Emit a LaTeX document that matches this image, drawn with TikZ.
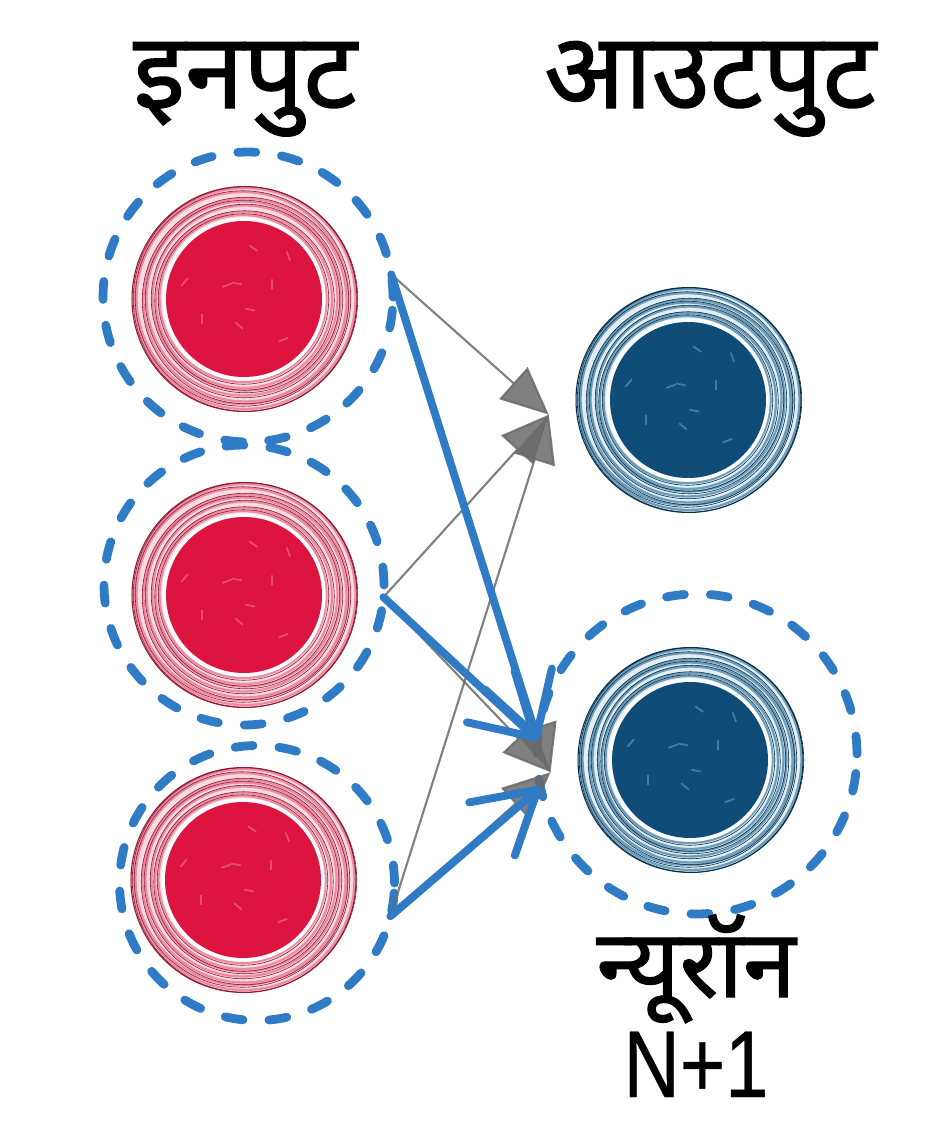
\documentclass[tikz,border=0pt]{standalone}
\usepackage{fontspec}
\newfontfamily\devafont[Script=Devanagari, FakeBold=1.4]{Noto Sans}
\newfontfamily\latfont[FakeStretch=0.82, FakeBold=0.4]{Liberation Sans}
\usetikzlibrary{arrows.meta}
\definecolor{dashblue}{HTML}{2F7BC6}
\definecolor{redcore}{HTML}{DC143F}
\definecolor{redring}{HTML}{F9DCE2}
\definecolor{redline}{HTML}{8E1B33}
\definecolor{redmid}{HTML}{EC8CA1}
\definecolor{bluecore}{HTML}{0F4D78}
\definecolor{bluering}{HTML}{E2EEF4}
\definecolor{blueline}{HTML}{0B2E48}
\definecolor{bluemid}{HTML}{6C9DBA}
\definecolor{arrowgray}{HTML}{6A6A6A}
\tikzset{
  pics/neuron/.style n args={4}{code={
    \fill[#2] (0,0) circle[radius=2.26cm];
    \foreach \r/\dx/\dy in {2.21/0.02/0.01,2.12/-0.03/0.02,2.03/0.02/-0.02,1.94/-0.01/0.01,1.85/0.02/0.02,1.76/0/-0.02,1.67/-0.02/0.01}
      {\draw[#4, line width=1.3pt] (\dx cm,\dy cm) circle[radius=\r cm];
       \draw[#3, line width=0.35pt] (\dx cm+0.01cm,\dy cm-0.01cm) circle[radius=\r cm+0.035cm];}
    \draw[#3, line width=0.6pt] (0.01cm,0) circle[radius=2.25cm];
    \draw[white, line width=2pt] (0,0) circle[radius=1.6cm];
    \fill[#1] (0,0) circle[radius=1.56cm];
    \foreach \a/\rr in {20/0.6,75/1.0,130/0.4,200/0.9,250/0.5,310/1.1,40/1.2,160/1.2,280/0.2,100/0.3}
      {\draw[white, opacity=0.25, line width=1pt, line cap=round] (\a:\rr cm) -- ++(\a+70:0.18cm);}
  }},
  neuronspot/.style={circle, minimum size=5.6cm, inner sep=0pt, outer sep=0pt},
  dashring/.style={circle, draw=dashblue, line width=5pt, dash pattern=on 0.36cm off 0.52cm, line cap=round, inner sep=0pt, outer sep=0pt},
  grayarrow/.style={draw=arrowgray, line width=1.2pt, opacity=0.85, -{Triangle[length=0.95cm,width=0.85cm]}},
  bluearrow/.style={draw=dashblue, line width=4.5pt, line cap=round, -{Straight Barb[length=1.2cm,width=1.4cm,line cap=round,round]}},
  headtxt/.style={font=\devafont\fontsize{60}{64}\selectfont, inner sep=0pt, anchor=base},
  labtxt/.style={font=\devafont\fontsize{54}{58}\selectfont, inner sep=0pt, anchor=base},
  numtxt/.style={font=\latfont\fontsize{54}{58}\selectfont, inner sep=0pt, anchor=base},
}
\begin{document}
\begin{tikzpicture}[x=0.02cm,y=-0.02cm]
\useasboundingbox (0,0) rectangle (944,1128);
\fill[white] (0,0) rectangle (944,1128);
% neurons
\node[neuronspot] (n1) at (244,299) {};
\node[neuronspot] (n2) at (244,595) {};
\node[neuronspot] (n3) at (243,880) {};
\node[neuronspot] (o1) at (688,400) {};
\node[neuronspot] (o2) at (690,760) {};
\pic at (n1) {neuron={redcore}{redring}{redline}{redmid}};
\pic at (n2) {neuron={redcore}{redring}{redline}{redmid}};
\pic at (n3) {neuron={redcore}{redring}{redline}{redmid}};
\pic at (o1) {neuron={bluecore}{bluering}{blueline}{bluemid}};
\pic at (o2) {neuron={bluecore}{bluering}{blueline}{bluemid}};
% dashed rings
\node[dashring, minimum size=5.8cm] (d1) at (248,297) {};
\node[dashring, minimum size=5.6cm] (d2) at (244,585) {};
\node[dashring, minimum size=5.5cm] (d3) at (257,883) {};
\node[dashring, minimum size=6.4cm] (d4) at (697,754) {};
% gray connections
\draw[grayarrow] (d1.9) -- (o1.186);
\draw[grayarrow] (d2.355) -- (o1.186);
\draw[grayarrow] (d3.346) -- (o1.186);
\draw[grayarrow] (d1.9) -- (o2.185);
\draw[grayarrow] (d2.355) -- (o2.185);
\draw[grayarrow] (d3.346) -- (o2.185);
% blue highlighted connections
\draw[bluearrow] (d1.9) -- (d4.175);
\draw[bluearrow] (d2.355) -- (d4.175);
\draw[bluearrow] (d3.346) -- (d4.192);
% labels
\node[headtxt] (tin) at (245,108) {इनपुट};
\node[headtxt] (tout) at (710,108) {आउटपुट};
\node[labtxt] (tneu) at (696,997) {न्यूरॉन};
\node[numtxt] (tnum) at (696,1097) {N+1};
\end{tikzpicture}
\end{document}
